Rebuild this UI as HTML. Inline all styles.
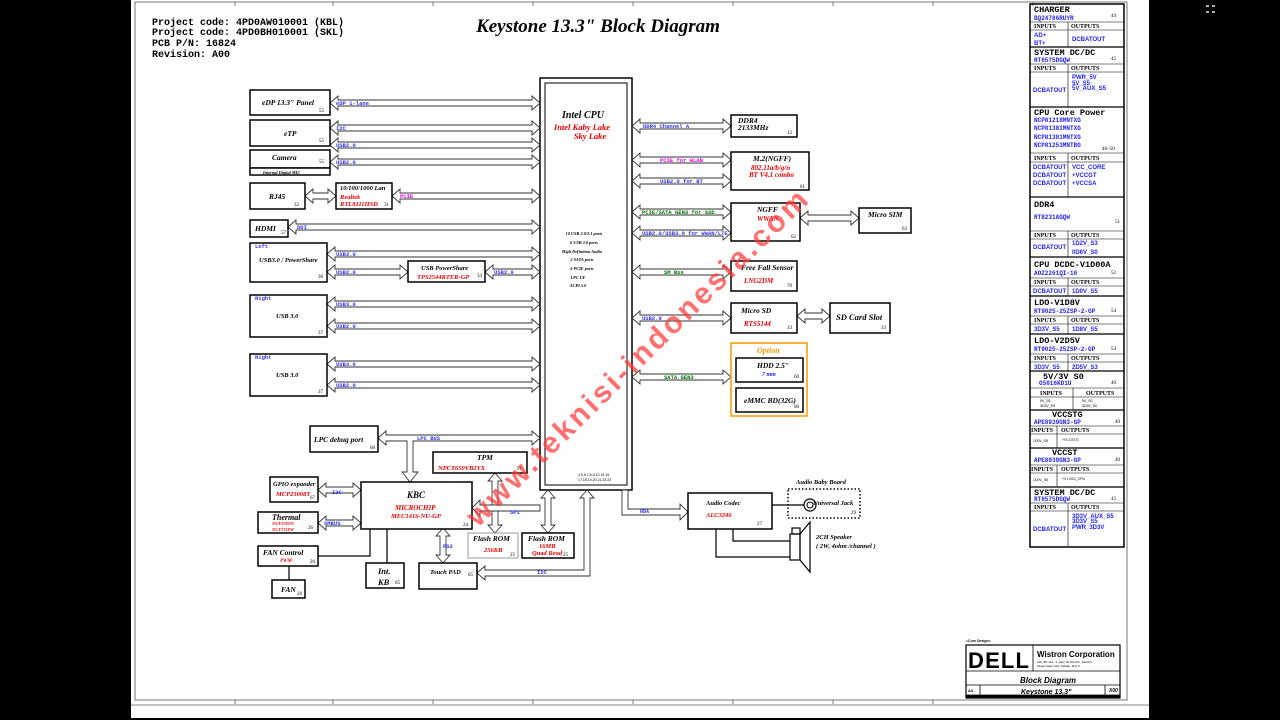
<!DOCTYPE html>
<html><head><meta charset="utf-8"><style>
html,body{margin:0;padding:0;background:#000;}
svg{display:block}
.b{fill:#fff;stroke:#000;stroke-width:1.5}
.a{fill:#fff;stroke:#333;stroke-width:0.9}
.t{font-family:"Liberation Serif",serif;font-weight:bold;font-style:italic;font-size:7.5px;fill:#000}
.r{font-family:"Liberation Serif",serif;font-weight:bold;font-style:italic;font-size:7px;fill:#e00}
.n{font-family:"Liberation Serif",serif;font-size:5px;fill:#000}
.l{font-family:"Liberation Mono",monospace;font-weight:bold;font-size:5.5px;fill:#33f}
.g{font-family:"Liberation Mono",monospace;font-weight:bold;font-size:5.5px;fill:#070}
.m{font-family:"Liberation Mono",monospace;font-weight:bold;font-size:5.5px;fill:#e0e}
.h{font-family:"Liberation Mono",monospace;font-weight:bold;font-size:10px;fill:#000}
.ct{font-family:"Liberation Mono",monospace;font-weight:bold;font-size:8.5px;fill:#000}
.cc{font-family:"Liberation Mono",monospace;font-weight:bold;font-size:6px;fill:#22f}
.hd{font-family:"Liberation Serif",serif;font-weight:bold;font-size:6px;fill:#000}
.v{font-family:"Liberation Sans",sans-serif;font-weight:bold;font-size:6px;fill:#22f}
.vs{font-family:"Liberation Sans",sans-serif;font-size:3.5px;fill:#000}
.f{font-family:"Liberation Serif",serif;font-weight:bold;font-style:italic;font-size:4.3px;fill:#000}
.lb text{transform:translateY(1px)}
</style></head><body>
<svg width="1280" height="720" viewBox="0 0 1280 720" xmlns="http://www.w3.org/2000/svg">
<rect x="0" y="0" width="1280" height="720" fill="#000"/>
<rect x="131" y="0" width="1018" height="718" fill="#fff"/>
<line x1="131" y1="705" x2="1149" y2="705" stroke="#888" stroke-width="1"/>
<rect x="135" y="2" width="992" height="698" fill="none" stroke="#777" stroke-width="1"/>
<g stroke="#777" stroke-width="1">
<line x1="235" y1="2" x2="235" y2="6"/><line x1="333" y1="2" x2="333" y2="6"/><line x1="433" y1="2" x2="433" y2="6"/><line x1="533" y1="2" x2="533" y2="6"/><line x1="633" y1="2" x2="633" y2="6"/><line x1="733" y1="2" x2="733" y2="6"/><line x1="833" y1="2" x2="833" y2="6"/><line x1="933" y1="2" x2="933" y2="6"/><line x1="1033" y1="2" x2="1033" y2="6"/>
<line x1="235" y1="700" x2="235" y2="704"/><line x1="333" y1="700" x2="333" y2="704"/><line x1="433" y1="700" x2="433" y2="704"/><line x1="533" y1="700" x2="533" y2="704"/><line x1="633" y1="700" x2="633" y2="704"/><line x1="733" y1="700" x2="733" y2="704"/><line x1="833" y1="700" x2="833" y2="704"/><line x1="933" y1="700" x2="933" y2="704"/>
</g>
<g fill="#aaa"><rect x="1206" y="5" width="3" height="2"/><rect x="1212" y="5" width="3" height="2"/><rect x="1206" y="11" width="3" height="2"/><rect x="1212" y="11" width="3" height="2"/></g>

<text class="h" x="152" y="25">Project code: 4PD0AW010001 (KBL)</text>
<text class="h" x="152" y="35">Project code: 4PD0BH010001 (SKL)</text>
<text class="h" x="152" y="46">PCB P/N: 16824</text>
<text class="h" x="152" y="57">Revision: A00</text>
<text x="598" y="32" text-anchor="middle" style="font-family:'Liberation Serif',serif;font-weight:bold;font-style:italic;font-size:19px">Keystone 13.3" Block Diagram</text>

<rect x="540" y="78" width="92" height="412" class="b"/>
<rect x="545" y="83" width="82" height="402" fill="none" stroke="#000" stroke-width="1"/>
<text x="583" y="118" text-anchor="middle" class="t" style="font-size:10px">Intel CPU</text>
<text x="582" y="130" text-anchor="middle" class="r" style="font-size:8.5px">Intel Kaby Lake</text>
<text x="590" y="139" text-anchor="middle" class="r" style="font-size:8.5px">Sky Lake</text>
<g text-anchor="middle"><text class="f" x="584" y="235">10 USB 2.0/3.1 ports</text><text class="f" x="584" y="244">6 USB 3.0 ports</text><text class="f" x="582" y="253">High Definition Audio</text><text class="f" x="582" y="261">3 SATA ports</text><text class="f" x="582" y="270">6 PCIE ports</text><text class="f" x="578" y="279">LPC I/F</text><text class="f" x="578" y="287">ACPI 5.0</text></g>
<text class="vs" x="578" y="476">4,5,6,7,8,9,10,15,16</text><text class="vs" x="578" y="481">17,18,19,20,21,22,23</text>

<g class="a">
<polygon points="330,103 338,96 338,100 532,100 532,96 540,103 532,110 532,106 338,106 338,110"/>
<polygon points="330,128 338,121 338,125 532,125 532,121 540,128 532,135 532,131 338,131 338,135"/>
<polygon points="330,145 338,138 338,142 532,142 532,138 540,145 532,152 532,148 338,148 338,152"/>
<polygon points="330,162 338,155 338,159 532,159 532,155 540,162 532,169 532,165 338,165 338,169"/>
<polygon points="305,196 313,189 313,193 328,193 328,189 336,196 328,203 328,199 313,199 313,203"/>
<polygon points="392,196 400,189 400,193 532,193 532,189 540,196 532,203 532,199 400,199 400,203"/>
<polygon points="288,227 296,220 296,224 532,224 532,220 540,227 532,234 532,230 296,230 296,234"/>
<polygon points="327,254 335,247 335,251 532,251 532,247 540,254 532,261 532,257 335,257 335,261"/>
<polygon points="327,272 335,265 335,269 400,269 400,265 408,272 400,279 400,275 335,275 335,279"/>
<polygon points="485,272 493,265 493,269 532,269 532,265 540,272 532,279 532,275 493,275 493,279"/>
<polygon points="327,304 335,297 335,301 532,301 532,297 540,304 532,311 532,307 335,307 335,311"/>
<polygon points="327,326 335,319 335,323 532,323 532,319 540,326 532,333 532,329 335,329 335,333"/>
<polygon points="327,364 335,357 335,361 532,361 532,357 540,364 532,371 532,367 335,367 335,371"/>
<polygon points="327,385 335,378 335,382 532,382 532,378 540,385 532,392 532,388 335,388 335,392"/>
<polygon points="632,126 640,119 640,123 723,123 723,119 731,126 723,133 723,129 640,129 640,133"/>
<polygon points="632,160 640,153 640,157 723,157 723,153 731,160 723,167 723,163 640,163 640,167"/>
<polygon points="632,181 640,174 640,178 723,178 723,174 731,181 723,188 723,184 640,184 640,188"/>
<polygon points="632,212 640,205 640,209 723,209 723,205 731,212 723,219 723,215 640,215 640,219"/>
<polygon points="632,233 640,226 640,230 723,230 723,226 731,233 723,240 723,236 640,236 640,240"/>
<polygon points="632,272 640,265 640,269 723,269 723,265 731,272 723,279 723,275 640,275 640,279"/>
<polygon points="632,318 640,311 640,315 723,315 723,311 731,318 723,325 723,321 640,321 640,325"/>
<polygon points="632,377 640,370 640,374 723,374 723,370 731,377 723,384 723,380 640,380 640,384"/>
<polygon points="800,218 808,211 808,215 851,215 851,211 859,218 851,225 851,221 808,221 808,225"/>
<polygon points="797,316 805,309 805,313 822,313 822,309 830,316 822,323 822,319 805,319 805,323"/>
<polygon points="318,490 326,483 326,487 353,487 353,483 361,490 353,497 353,493 326,493 326,497"/>
<polygon points="318,523 326,516 326,520 353,520 353,516 361,523 353,530 353,526 326,526 326,530"/>
<polygon points="378,438 386,431 386,435 532,435 532,431 540,438 532,445 532,441 413,441 413,472 418,472 410,482 402,472 407,472 407,441 386,441 386,445"/>
<polygon points="495,473 488,481 492,481 492,525 488,525 495,533 502,525 498,525 498,481 502,481"/>
<polygon points="548,490 541,498 545,498 545,525 541,525 548,533 555,525 551,525 551,498 555,498"/>
<polygon points="443,528 436,536 440,536 440,555 436,555 443,563 450,555 446,555 446,536 450,536"/>
<polygon points="472,508 480,500 480,505 540,505 540,511 480,511 480,516"/>
<polygon points="477,573 485,566 485,570 584,570 584,498 580,498 587,490 594,498 590,498 590,576 485,576 485,580"/>
<polygon points="622,490 628,490 628,509 680,509 680,504 688,512 680,520 680,515 622,515"/>
</g>

<g class="b">
<rect x="250" y="90" width="80" height="25"/>
<rect x="250" y="120" width="80" height="26"/>
<rect x="250" y="150" width="80" height="18"/>
<rect x="250" y="168" width="80" height="7"/>
<rect x="250" y="183" width="55" height="26"/>
<rect x="336" y="183" width="56" height="26"/>
<rect x="250" y="220" width="38" height="17"/>
<rect x="250" y="243" width="77" height="39"/>
<rect x="408" y="261" width="77" height="21"/>
<rect x="250" y="295" width="77" height="42"/>
<rect x="250" y="354" width="77" height="42"/>
<rect x="731" y="115" width="66" height="22"/>
<rect x="731" y="152" width="78" height="38"/>
<rect x="731" y="203" width="69" height="38"/>
<rect x="859" y="208" width="52" height="25"/>
<rect x="731" y="261" width="66" height="30"/>
<rect x="731" y="303" width="66" height="30"/>
<rect x="830" y="303" width="60" height="30"/>
<rect x="736" y="358" width="67" height="24"/>
<rect x="736" y="388" width="67" height="24"/>
<rect x="310" y="426" width="68" height="26"/>
<rect x="433" y="452" width="94" height="21"/>
<rect x="361" y="482" width="111" height="47"/>
<rect x="270" y="477" width="48" height="25"/>
<rect x="258" y="512" width="60" height="21"/>
<rect x="258" y="546" width="60" height="20"/>
<rect x="272" y="580" width="33" height="18"/>
<rect x="366" y="563" width="38" height="25"/>
<rect x="419" y="563" width="58" height="26"/>
<rect x="522" y="533" width="52" height="25"/>
<rect x="688" y="493" width="84" height="36"/>
</g>
<rect x="468" y="533" width="50" height="25" fill="#fff" stroke="#999" stroke-width="1"/>
<rect x="731" y="343" width="76" height="73" fill="none" stroke="#f90" stroke-width="1.5"/>

<g stroke="#000" stroke-width="1.2" fill="none">
<polyline points="370,529 370,556 318,556"/>
<line x1="387" y1="529" x2="387" y2="563"/>
<line x1="289" y1="566" x2="289" y2="580"/>
<line x1="772" y1="505" x2="804" y2="505"/>
<polyline points="716,529 716,557 790,557"/>
<polyline points="733,529 733,541 790,541"/>
<rect x="790" y="534" width="10" height="26"/>
<polygon points="800,534 810,522 810,572 800,560"/>
<rect x="792" y="528" width="8" height="6"/>
</g>
<circle cx="810" cy="505" r="6" fill="#fff" stroke="#000" stroke-width="1.2"/>
<circle cx="810" cy="505" r="3" fill="none" stroke="#000" stroke-width="1"/>
<rect x="788" y="489" width="72" height="29" fill="none" stroke="#000" stroke-width="1.5" stroke-dasharray="1.5,2"/>

<text class="t" x="262" y="105">eDP 13.3" Panel</text><text class="n" x="319" y="112">55</text>
<text class="t" x="284" y="136">eTP</text><text class="n" x="319" y="142">55</text>
<text class="t" x="272" y="160">Camera</text><text class="n" x="319" y="163">55</text>
<text class="f" x="263" y="174">Internal Digital MIC</text>
<text class="t" x="269" y="199">RJ45</text><text class="n" x="294" y="206">32</text>
<text class="t" x="340" y="190" style="font-size:6.5px">10/100/1000 Lan</text>
<text class="r" x="340" y="199" style="font-size:6.5px">Realtek</text>
<text class="r" x="340" y="206" style="font-size:6.5px">RTL8111HSD</text><text class="n" x="384" y="206">31</text>
<text class="t" x="255" y="231">HDMI</text><text class="n" x="281" y="234">57</text>
<text class="l" x="255" y="248">Left</text>
<text class="t" x="259" y="262" style="font-size:6.5px">USB3.0 / PowerShare</text><text class="n" x="318" y="278">36</text>
<text class="t" x="421" y="270" style="font-size:6.5px">USB PowerShare</text>
<text class="r" x="417" y="279" style="font-size:6.5px">TPS2544RTER-GP</text><text class="n" x="477" y="277">34</text>
<text class="l" x="255" y="300">Right</text><text class="t" x="276" y="318" style="font-size:6.5px">USB 3.0</text><text class="n" x="318" y="334">37</text>
<text class="l" x="255" y="359">Right</text><text class="t" x="276" y="377" style="font-size:6.5px">USB 3.0</text><text class="n" x="318" y="393">37</text>

<g class="lb">
<text class="l" x="336" y="104">eDP 1-lane</text>
<text class="l" x="336" y="129">I2C</text>
<text class="l" x="336" y="146">USB2.0</text>
<text class="l" x="336" y="163">USB2.0</text>
<text class="m" x="400" y="197">PCIE</text>
<text class="l" x="297" y="228">DDI</text>
<text class="l" x="336" y="255">USB3.0</text>
<text class="l" x="336" y="273">USB2.0</text>
<text class="l" x="494" y="273">USB2.0</text>
<text class="l" x="336" y="305">USB3.0</text>
<text class="l" x="336" y="327">USB2.0</text>
<text class="l" x="336" y="365">USB3.0</text>
<text class="l" x="336" y="386">USB2.0</text>
<text class="l" x="643" y="127">DDR4 Channel A</text>
<text class="m" x="660" y="161">PCIE for WLAN</text>
<text class="l" x="660" y="182">USB2.0 for BT</text>
<text class="g" x="642" y="213">PCIE/SATA GEN3 for SSD</text>
<text class="l" x="642" y="234">USB2.0/USB3.0 for WWAN/LTE</text>
<text class="g" x="664" y="273">SM Bus</text>
<text class="l" x="642" y="319">USB2.0</text>
<text class="g" x="664" y="378">SATA GEN3</text>
</g>

<text class="t" x="738" y="123">DDR4</text><text class="t" x="738" y="130">2133MHz</text><text class="n" x="787" y="134">12</text>
<text class="t" x="753" y="161">M.2(NGFF)</text>
<text class="r" x="751" y="170">802.11a/b/g/n</text><text class="r" x="749" y="177">BT V4.1 combo</text><text class="n" x="800" y="188">61</text>
<text class="t" x="757" y="212">NGFF</text><text class="r" x="757" y="221">WWAN</text><text class="n" x="791" y="238">62</text>
<text class="t" x="868" y="217">Micro SIM</text><text class="n" x="902" y="230">63</text>
<text class="t" x="741" y="270">Free Fall Sensor</text><text class="r" x="744" y="283">LNG2DM</text><text class="n" x="787" y="287">70</text>
<text class="t" x="741" y="313">Micro SD</text><text class="r" x="744" y="326">RTS5144</text><text class="n" x="787" y="329">33</text>
<text class="t" x="836" y="320" style="font-size:8.5px">SD Card Slot</text><text class="n" x="881" y="329">33</text>
<text x="757" y="353" style="font-family:'Liberation Serif',serif;font-weight:bold;font-style:italic;font-size:8px;fill:#f90">Option</text>
<text class="t" x="757" y="368">HDD 2.5"</text><text x="762" y="376" class="t" style="fill:#22f;font-size:6px">7 mm</text><text class="n" x="794" y="378">60</text>
<text class="t" x="744" y="403">eMMC BD(32G)</text><text class="n" x="794" y="408">60</text>

<text class="t" x="314" y="442">LPC debug  port</text><text class="n" x="370" y="449">68</text>
<text class="l" x="417" y="440">LPC BUS</text>
<text class="t" x="477" y="460">TPM</text>
<text class="r" x="438" y="470" style="font-size:6.5px">NPCT650VB2YX</text><text class="n" x="517" y="470">91</text>
<text class="t" x="407" y="498" style="font-size:9px">KBC</text>
<text class="r" x="395" y="510">MICROCHIP</text>
<text class="r" x="391" y="518" style="font-size:6.5px">MEC1416-NU-GP</text><text class="n" x="463" y="526">24</text>
<text class="t" x="273" y="486" style="font-size:6.5px">GPIO expander</text>
<text class="r" x="276" y="496" style="font-size:6.5px">MCP23008T</text><text class="n" x="310" y="499">67</text>
<text class="l" x="332" y="494">I2C</text>
<text class="t" x="272" y="520" style="font-size:8px">Thermal</text>
<text class="r" x="272" y="525" style="font-size:4.5px">NUVOTON</text><text class="r" x="272" y="531" style="font-size:4.5px">NCT7718W</text><text class="n" x="308" y="529">26</text>
<text class="l" x="324" y="525">SMBUS</text>
<text class="t" x="263" y="555">FAN Control</text><text class="r" x="280" y="562" style="font-size:5px">PWM</text><text class="n" x="310" y="563">26</text>
<text class="t" x="281" y="592">FAN</text><text class="n" x="297" y="595">26</text>
<text class="t" x="378" y="574" style="font-size:8.5px">Int.</text><text class="t" x="378" y="585" style="font-size:8.5px">KB</text><text class="n" x="395" y="584">65</text>
<text class="t" x="430" y="574" style="font-size:6.5px">Touch PAD</text><text class="n" x="468" y="576">65</text>
<text class="l" x="443" y="548">PS2</text>
<text class="l" x="510" y="514">SPI</text>
<text class="l" x="537" y="574">I2C</text>
<text class="t" x="473" y="541">Flash ROM</text><text class="r" x="484" y="552" style="font-size:6.5px">256KB</text><text class="n" x="510" y="556">25</text>
<text class="t" x="528" y="541">Flash ROM</text><text class="r" x="539" y="548" style="font-size:6.5px">16MB</text><text class="r" x="532" y="555" style="font-size:6.5px">Quad Read</text><text class="n" x="563" y="556">25</text>
<text x="640" y="513" style="font-family:'Liberation Mono',monospace;font-weight:bold;font-size:5px;fill:#33f">HDA</text>
<text class="t" x="706" y="505" style="font-size:6.5px">Audio Codec</text><text class="r" x="706" y="517" style="font-size:6.5px">ALC3246</text><text class="n" x="757" y="525">27</text>
<text class="t" x="796" y="484" style="font-size:6.5px">Audio Baby Board</text>
<text class="t" x="813" y="505" style="font-size:6.5px">Universal Jack</text><text class="n" x="851" y="514">29</text>
<text class="t" x="816" y="539" style="font-size:6.5px">2CH Speaker</text>
<text class="t" x="816" y="548" style="font-size:6.5px">( 2W, 4ohm /channel )</text>

<g stroke="#000" fill="none">
<rect x="1030" y="4" width="94" height="543" stroke-width="1.5"/>
<g stroke-width="1.2">
<line x1="1030" y1="47" x2="1124" y2="47"/><line x1="1030" y1="107" x2="1124" y2="107"/><line x1="1030" y1="197" x2="1124" y2="197"/><line x1="1030" y1="257" x2="1124" y2="257"/><line x1="1030" y1="296" x2="1124" y2="296"/><line x1="1030" y1="334" x2="1124" y2="334"/><line x1="1030" y1="371" x2="1124" y2="371"/><line x1="1030" y1="410" x2="1124" y2="410"/><line x1="1030" y1="448" x2="1124" y2="448"/><line x1="1030" y1="487" x2="1124" y2="487"/>
</g>
<g stroke-width="0.6">
<line x1="1030" y1="22" x2="1124" y2="22"/><line x1="1030" y1="30" x2="1124" y2="30"/>
<line x1="1030" y1="64" x2="1124" y2="64"/><line x1="1030" y1="72" x2="1124" y2="72"/>
<line x1="1030" y1="153" x2="1124" y2="153"/><line x1="1030" y1="162" x2="1124" y2="162"/>
<line x1="1030" y1="231" x2="1124" y2="231"/><line x1="1030" y1="239" x2="1124" y2="239"/>
<line x1="1030" y1="278" x2="1124" y2="278"/><line x1="1030" y1="286" x2="1124" y2="286"/>
<line x1="1030" y1="316" x2="1124" y2="316"/><line x1="1030" y1="324" x2="1124" y2="324"/>
<line x1="1030" y1="354" x2="1124" y2="354"/><line x1="1030" y1="362" x2="1124" y2="362"/>
<line x1="1030" y1="388" x2="1124" y2="388"/><line x1="1030" y1="397" x2="1124" y2="397"/>
<line x1="1030" y1="426" x2="1124" y2="426"/><line x1="1030" y1="434" x2="1124" y2="434"/>
<line x1="1030" y1="465" x2="1124" y2="465"/><line x1="1030" y1="473" x2="1124" y2="473"/>
<line x1="1030" y1="503" x2="1124" y2="503"/><line x1="1030" y1="511" x2="1124" y2="511"/>
<line x1="1068" y1="22" x2="1068" y2="47"/><line x1="1068" y1="64" x2="1068" y2="107"/><line x1="1068" y1="153" x2="1068" y2="197"/><line x1="1068" y1="231" x2="1068" y2="257"/><line x1="1068" y1="278" x2="1068" y2="296"/><line x1="1068" y1="316" x2="1068" y2="334"/><line x1="1068" y1="354" x2="1068" y2="371"/><line x1="1073" y1="388" x2="1073" y2="410"/><line x1="1057" y1="426" x2="1057" y2="448"/><line x1="1057" y1="465" x2="1057" y2="487"/><line x1="1068" y1="503" x2="1068" y2="546"/>
</g>
</g>
<g>
<text class="ct" x="1034" y="12">CHARGER</text><text class="cc" x="1034" y="20">BQ24786RUYR</text><text class="n" x="1111" y="17">44</text>
<text class="hd" x="1034" y="28">INPUTS</text><text class="hd" x="1071" y="28">OUTPUTS</text>
<text class="v" x="1034" y="37">AD+</text><text class="v" x="1034" y="45">BT+</text><text class="v" x="1072" y="41">DCBATOUT</text>
<text class="ct" x="1034" y="55">SYSTEM DC/DC</text><text class="cc" x="1034" y="62">RT6575DGQW</text><text class="n" x="1111" y="60">45</text>
<text class="hd" x="1034" y="70">INPUTS</text><text class="hd" x="1071" y="70">OUTPUTS</text>
<text class="v" x="1072" y="79">PWR_5V</text><text class="v" x="1072" y="85">5V_S5</text><text class="v" x="1072" y="90">5V_AUX_S5</text><text class="v" x="1033" y="92">DCBATOUT</text>
<text class="ct" x="1034" y="115">CPU Core Power</text>
<text class="cc" x="1034" y="122">NCP81218MNTXG</text><text class="cc" x="1034" y="130">NCP81381MNTXG</text><text class="cc" x="1034" y="139">NCP81381MNTXG</text><text class="cc" x="1034" y="147">NCP81253MNTBG</text><text class="n" x="1102" y="150">46~50</text>
<text class="hd" x="1034" y="160">INPUTS</text><text class="hd" x="1071" y="160">OUTPUTS</text>
<text class="v" x="1033" y="169">DCBATOUT</text><text class="v" x="1072" y="169">VCC_CORE</text>
<text class="v" x="1033" y="177">DCBATOUT</text><text class="v" x="1072" y="177">+VCCGT</text>
<text class="v" x="1033" y="185">DCBATOUT</text><text class="v" x="1072" y="185">+VCCSA</text>
<text class="ct" x="1034" y="207">DDR4</text><text class="cc" x="1034" y="219">RT8231AGQW</text><text class="n" x="1115" y="223">51</text>
<text class="hd" x="1034" y="237">INPUTS</text><text class="hd" x="1071" y="237">OUTPUTS</text>
<text class="v" x="1072" y="245">1D2V_S3</text><text class="v" x="1033" y="249">DCBATOUT</text><text class="v" x="1072" y="254">0D6V_S0</text>
<text class="ct" x="1034" y="267">CPU DCDC-V1D00A</text><text class="cc" x="1034" y="275">AOZ2261QI-10</text><text class="n" x="1111" y="274">52</text>
<text class="hd" x="1034" y="284">INPUTS</text><text class="hd" x="1071" y="284">OUTPUTS</text>
<text class="v" x="1033" y="293">DCBATOUT</text><text class="v" x="1072" y="293">1D0V_S5</text>
<text class="ct" x="1034" y="305">LDO-V1D8V</text><text class="cc" x="1034" y="313">RT9025-25ZSP-2-GP</text><text class="n" x="1111" y="312">54</text>
<text class="hd" x="1034" y="322">INPUTS</text><text class="hd" x="1071" y="322">OUTPUTS</text>
<text class="v" x="1034" y="331">3D3V_S5</text><text class="v" x="1072" y="331">1D8V_S5</text>
<text class="ct" x="1034" y="343">LDO-V2D5V</text><text class="cc" x="1034" y="351">RT9025-25ZSP-2-GP</text><text class="n" x="1111" y="350">54</text>
<text class="hd" x="1034" y="360">INPUTS</text><text class="hd" x="1071" y="360">OUTPUTS</text>
<text class="v" x="1034" y="369">3D3V_S5</text><text class="v" x="1072" y="369">2D5V_S3</text>
<text class="ct" x="1043" y="379">5V/3V S0</text><text class="cc" x="1039" y="385">G5016KD1U</text><text class="n" x="1111" y="384">40</text>
<text class="hd" x="1040" y="395">INPUTS</text><text class="hd" x="1086" y="395">OUTPUTS</text>
<text class="vs" x="1040" y="402">5V_S5</text><text class="vs" x="1040" y="407">3D3V_S5</text><text class="vs" x="1082" y="402">5V_S0</text><text class="vs" x="1082" y="407">3D3V_S0</text>
<text class="ct" x="1052" y="417">VCCSTG</text><text class="cc" x="1034" y="424">APE8939GN3-GP</text><text class="n" x="1115" y="423">40</text>
<text class="hd" x="1031" y="432">INPUTS</text><text class="hd" x="1061" y="432">OUTPUTS</text>
<text class="vs" x="1033" y="442">1D0V_S5</text><text class="vs" x="1062" y="441">+VCCSTG</text>
<text class="ct" x="1052" y="455">VCCST</text><text class="cc" x="1034" y="462">APE8939GN3-GP</text><text class="n" x="1115" y="461">40</text>
<text class="hd" x="1031" y="471">INPUTS</text><text class="hd" x="1061" y="471">OUTPUTS</text>
<text class="vs" x="1033" y="481">1D0V_S5</text><text class="vs" x="1062" y="480">+V1.00U_CPU</text>
<text class="ct" x="1034" y="495">SYSTEM DC/DC</text><text class="cc" x="1034" y="501">RT6575DGQW</text><text class="n" x="1111" y="500">45</text>
<text class="hd" x="1034" y="509">INPUTS</text><text class="hd" x="1071" y="509">OUTPUTS</text>
<text class="v" x="1072" y="518">3D3V_AUX_S5</text><text class="v" x="1072" y="523">3D3V_S5</text><text class="v" x="1072" y="529">PWR_3D3V</text><text class="v" x="1033" y="531">DCBATOUT</text>
</g>

<text x="966" y="642" style="font-family:'Liberation Sans',sans-serif;font-size:3.5px;font-weight:bold">&lt;Core Design&gt;</text>
<g stroke="#000" fill="none">
<rect x="966" y="645" width="154" height="53" stroke-width="1.2"/>
<line x1="966" y1="671" x2="1120" y2="671" stroke-width="0.8"/>
<line x1="966" y1="685" x2="1120" y2="685" stroke-width="0.8"/>
<line x1="966" y1="695" x2="1120" y2="695" stroke-width="0.8"/>
<line x1="1033" y1="645" x2="1033" y2="671" stroke-width="0.8"/>
<line x1="980" y1="685" x2="980" y2="695" stroke-width="0.8"/>
<line x1="1105" y1="685" x2="1105" y2="695" stroke-width="0.8"/>
</g>
<text x="968" y="668" style="font-family:'Liberation Sans',sans-serif;font-weight:bold;font-size:22px;letter-spacing:-1px" textLength="60">DELL</text>
<text x="1037" y="657" style="font-family:'Liberation Sans',sans-serif;font-weight:bold;font-size:8px">Wistron Corporation</text>
<text x="1037" y="663" style="font-family:'Liberation Sans',sans-serif;font-size:3px">21F, 88, Sec. 1, Hsin Tai Wu Rd., Hsichih,</text>
<text x="1037" y="667" style="font-family:'Liberation Sans',sans-serif;font-size:3px">Taipei Hsien 221, Taiwan, R.O.C.</text>
<text x="1020" y="683" style="font-family:'Liberation Sans',sans-serif;font-weight:bold;font-style:italic;font-size:8px">Block Diagram</text>
<text x="1021" y="694" style="font-family:'Liberation Sans',sans-serif;font-weight:bold;font-style:italic;font-size:7px">Keystone 13.3"</text>
<text x="968" y="692" style="font-family:'Liberation Sans',sans-serif;font-weight:bold;font-size:4px">A4</text>
<text x="1109" y="692" style="font-family:'Liberation Sans',sans-serif;font-weight:bold;font-style:italic;font-size:5px">X00</text>
<rect x="966" y="695" width="154" height="3" fill="#000"/>

<text x="0" y="0" transform="translate(478,528) rotate(-44.5)" textLength="465" style="font-family:'Liberation Sans',sans-serif;font-weight:bold;font-size:30px;fill:#f33;fill-opacity:0.7">www.teknisi-indonesia.com</text>
</svg>
</body></html>
